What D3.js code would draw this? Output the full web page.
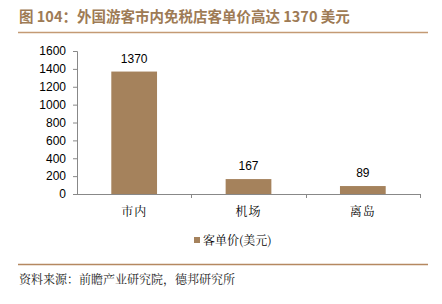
<!DOCTYPE html>
<html>
<head>
<meta charset="utf-8">
<script src="https://cdn.jsdelivr.net/npm/d3@7"></script>
<style>
  body { margin: 0; background: #fff; }
  svg { display: block; }
</style>
</head>
<body>
<div id="chart"></div>
<script>
const categories = ['市内', '机场', '离岛'];
const values = [1370, 167, 89];
const yTicks = [0, 200, 400, 600, 800, 1000, 1200, 1400, 1600];
const seriesName = '客单价(美元)';
const title = '图 104：外国游客市内免税店客单价高达 1370 美元';
const source = '资料来源：前瞻产业研究院，德邦研究所';

const W = 442, H = 304;
const margin = { top: 51, left: 77, right: 22, bottom: 110 };
const barColor = '#A5825C';
const brown = '#9E7B55';
const cjk = '"Noto Sans CJK SC", sans-serif';
const serifCjk = '"Noto Serif CJK SC", "Noto Sans CJK SC", serif';
const latin = '"Liberation Sans", Arial, sans-serif';

const svg = d3.select('#chart').append('svg')
  .attr('width', W)
  .attr('height', H);

// title + rules
svg.append('text')
  .attr('x', 19)
  .attr('y', 22)
  .attr('fill', brown)
  .style('font-family', cjk)
  .style('font-size', '14.5px')
  .style('font-weight', 'bold')
  .text(title);

svg.append('line')
  .attr('x1', 18).attr('x2', 428)
  .attr('y1', 32.5).attr('y2', 32.5)
  .attr('stroke', '#C49A74').attr('stroke-width', 1.5);

svg.append('line')
  .attr('x1', 18).attr('x2', 428)
  .attr('y1', 264.5).attr('y2', 264.5)
  .attr('stroke', '#B58860').attr('stroke-width', 1.5);

svg.append('text')
  .attr('x', 19)
  .attr('y', 284)
  .attr('fill', '#222')
  .style('font-family', serifCjk)
  .style('font-size', '12px')
  .text(source);

const plotH = 194 - margin.top;
const g = svg.append('g')
  .attr('transform', 'translate(' + margin.left + ',' + margin.top + ')');

const x = d3.scaleBand()
  .domain(categories)
  .range([0, 343])
  .paddingInner(0.6)
  .paddingOuter(0.3);

const y = d3.scaleLinear()
  .domain([0, 1600])
  .range([plotH, 0]);

// y axis
const yAxis = g.append('g')
  .call(d3.axisLeft(y).tickValues(yTicks).tickFormat(d3.format('d')).tickSize(4).tickPadding(7));
yAxis.select('.domain').attr('stroke', '#888');
yAxis.selectAll('.tick line').attr('stroke', '#888');
yAxis.selectAll('text')
  .attr('fill', '#000')
  .style('font-family', latin)
  .style('font-size', '12px');

// bars
g.selectAll('.bar')
  .data(values)
  .enter().append('rect')
  .attr('class', 'bar')
  .attr('x', (d, i) => x(categories[i]))
  .attr('y', d => y(d))
  .attr('width', x.bandwidth())
  .attr('height', d => plotH - y(d))
  .attr('fill', barColor);

// x axis
const step = x.step();
const xAxis = g.append('g')
  .attr('transform', 'translate(0,' + plotH + ')');
xAxis.append('line')
  .attr('x1', 0).attr('x2', 343)
  .attr('y1', 0.5).attr('y2', 0.5)
  .attr('stroke', '#888');
xAxis.selectAll('.xtick')
  .data(categories)
  .enter().append('line')
  .attr('class', 'xtick')
  .attr('x1', d => Math.round(x(d) + x.bandwidth() / 2 + step / 2) + 0.5)
  .attr('x2', d => Math.round(x(d) + x.bandwidth() / 2 + step / 2) + 0.5)
  .attr('y1', 0).attr('y2', 4)
  .attr('stroke', '#888');
xAxis.selectAll('.xlabel')
  .data(categories)
  .enter().append('text')
  .attr('class', 'xlabel')
  .attr('x', d => x(d) + x.bandwidth() / 2)
  .attr('y', 22)
  .attr('text-anchor', 'middle')
  .attr('fill', '#000')
  .style('font-family', serifCjk)
  .style('font-size', '12px')
  .style('letter-spacing', '1px')
  .text(d => d);

// value labels
g.selectAll('.val')
  .data(values)
  .enter().append('text')
  .attr('class', 'val')
  .attr('x', (d, i) => x(categories[i]) + x.bandwidth() / 2)
  .attr('y', d => y(d) - 9)
  .attr('text-anchor', 'middle')
  .attr('fill', '#000')
  .style('font-family', latin)
  .style('font-size', '12px')
  .text(d => d);

// legend
const legend = svg.append('g')
  .attr('transform', 'translate(194,241)');
legend.append('rect')
  .attr('x', 0).attr('y', -4)
  .attr('width', 6).attr('height', 6)
  .attr('fill', barColor);
legend.append('text')
  .attr('x', 9)
  .attr('y', 4)
  .attr('fill', '#000')
  .style('font-family', serifCjk)
  .style('font-size', '12px')
  .text(seriesName);
</script>
</body>
</html>
